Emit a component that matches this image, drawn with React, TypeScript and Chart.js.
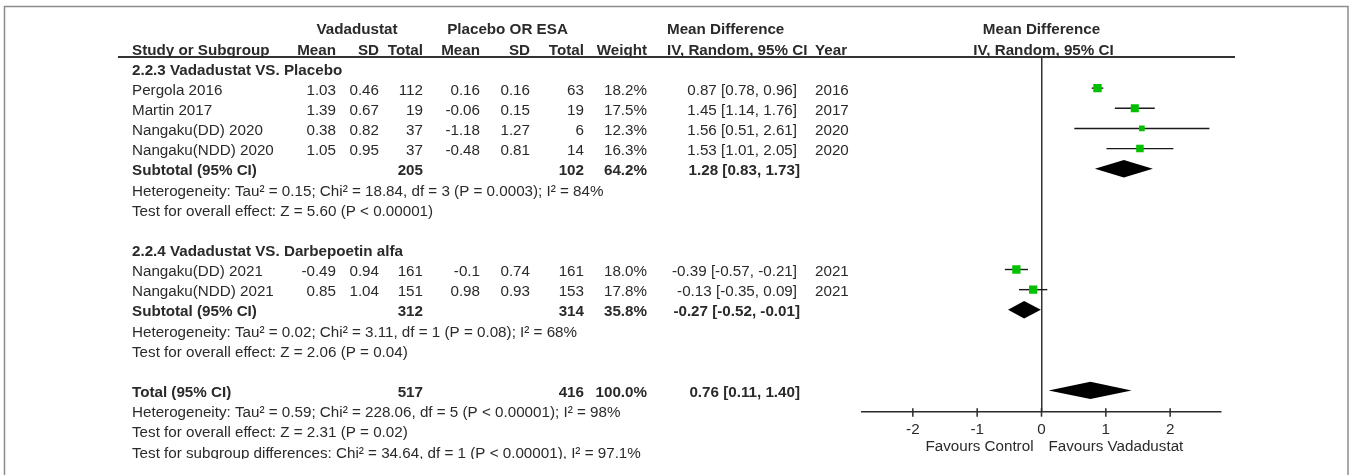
import React, { useEffect, useRef } from "react";
import { Chart, registerables } from "chart.js";

Chart.register(...registerables);

const FONT = '"Liberation Sans", Arial, Helvetica, sans-serif';
const FONT_SIZE = 15.2;

// ---------------- data ----------------
const groupTitles = ["2.2.3 Vadadustat VS. Placebo", "2.2.4 Vadadustat VS. Darbepoetin alfa"];
const studyNames = [
  "Pergola 2016",
  "Martin 2017",
  "Nangaku(DD) 2020",
  "Nangaku(NDD) 2020",
  "Nangaku(DD) 2021",
  "Nangaku(NDD) 2021",
];
const studyGroup = [0, 0, 0, 0, 1, 1];
const vadMean = [1.03, 1.39, 0.38, 1.05, -0.49, 0.85];
const vadSD = [0.46, 0.67, 0.82, 0.95, 0.94, 1.04];
const vadTotal = [112, 19, 37, 37, 161, 151];
const ctlMean = [0.16, -0.06, -1.18, -0.48, -0.1, 0.98];
const ctlSD = [0.16, 0.15, 1.27, 0.81, 0.74, 0.93];
const ctlTotal = [63, 19, 6, 14, 161, 153];
const weights = [18.2, 17.5, 12.3, 16.3, 18.0, 17.8];
const meanDiff = [0.87, 1.45, 1.56, 1.53, -0.39, -0.13];
const ciLow = [0.78, 1.14, 0.51, 1.01, -0.57, -0.35];
const ciHigh = [0.96, 1.76, 2.61, 2.05, -0.21, 0.09];
const years = [2016, 2017, 2020, 2020, 2021, 2021];

const subVadTotal = [205, 312];
const subCtlTotal = [102, 314];
const subWeight = [64.2, 35.8];
const subMD = [1.28, -0.27];
const subLow = [0.83, -0.52];
const subHigh = [1.73, -0.01];
const subHeterogeneity = [
  "Heterogeneity: Tau² = 0.15; Chi² = 18.84, df = 3 (P = 0.0003); I² = 84%",
  "Heterogeneity: Tau² = 0.02; Chi² = 3.11, df = 1 (P = 0.08); I² = 68%",
];
const subEffect = [
  "Test for overall effect: Z = 5.60 (P < 0.00001)",
  "Test for overall effect: Z = 2.06 (P = 0.04)",
];

const totalVad = 517;
const totalCtl = 416;
const totalWeight = 100.0;
const totalMD = 0.76;
const totalLow = 0.11;
const totalHigh = 1.4;
const totalNotes = [
  "Heterogeneity: Tau² = 0.59; Chi² = 228.06, df = 5 (P < 0.00001); I² = 98%",
  "Test for overall effect: Z = 2.31 (P = 0.02)",
  "Test for subgroup differences: Chi² = 34.64, df = 1 (P < 0.00001), I² = 97.1%",
];

const xTicks = [-2, -1, 0, 1, 2];
const xMin = -2.79;
const xMax = 2.79;
const favourLeft = "Favours Control";
const favourRight = "Favours Vadadustat";

// ---------------- layout ----------------
const W = 1352;
const H = 475;
const PLOT_LEFT = 862;
const PLOT_RIGHT = 1221;
const PLOT_TOP = 57;
const AXIS_Y = 411.7;
const ROW0_Y = 68;
const ROW_PITCH = 20.15;
const TEXT_DY = 2.5;
const TEXT_CLIP = 459;
const TXT = "#2a2a2a";

const COL = {
  study: 132,
  vadMean: 336,
  vadSD: 379,
  vadTotal: 423,
  ctlMean: 480,
  ctlSD: 530,
  ctlTotal: 584,
  weight: 647,
  ci: 797,
  ciBold: 800,
  year: 815,
  ciHead: 667,
  vadHead: 357,
  ctlHead: 507.5,
};

type Row =
  | { kind: "group"; g: number }
  | { kind: "study"; i: number }
  | { kind: "subtotal"; g: number }
  | { kind: "note"; text: string }
  | { kind: "blank" }
  | { kind: "total" };

const rows: Row[] = [];
groupTitles.forEach((_, g) => {
  rows.push({ kind: "group", g });
  studyNames.forEach((_, i) => {
    if (studyGroup[i] === g) rows.push({ kind: "study", i });
  });
  rows.push({ kind: "subtotal", g });
  rows.push({ kind: "note", text: subHeterogeneity[g] });
  rows.push({ kind: "note", text: subEffect[g] });
  rows.push({ kind: "blank" });
});
rows.push({ kind: "total" });
totalNotes.forEach((t) => rows.push({ kind: "note", text: t }));

const studyRow: number[] = studyNames.map((_, i) =>
  rows.findIndex((r) => r.kind === "study" && r.i === i)
);
const subRow: number[] = groupTitles.map((_, g) =>
  rows.findIndex((r) => r.kind === "subtotal" && r.g === g)
);
const totalRow = rows.findIndex((r) => r.kind === "total");

const fmtCI = (m: number, lo: number, hi: number) =>
  `${m.toFixed(2)} [${lo.toFixed(2)}, ${hi.toFixed(2)}]`;

function text(
  ctx: CanvasRenderingContext2D,
  s: string,
  x: number,
  y: number,
  align: CanvasTextAlign,
  bold = false
) {
  ctx.font = `${bold ? "bold " : ""}${FONT_SIZE}px ${FONT}`;
  ctx.textAlign = align;
  ctx.textBaseline = "middle";
  ctx.fillStyle = TXT;
  ctx.fillText(s, x, y);
}

const forestPlugin = {
  id: "forest",
  beforeDraw(chart: any) {
    const ctx: CanvasRenderingContext2D = chart.ctx;
    ctx.save();
    ctx.fillStyle = "#ffffff";
    ctx.fillRect(0, 0, W, H);
    ctx.strokeStyle = "#8c8c8c";
    ctx.lineWidth = 1.5;
    ctx.strokeRect(4.5, 6.5, 1343.5, 520);
    ctx.restore();
  },
  beforeDatasetsDraw(chart: any) {
    const ctx: CanvasRenderingContext2D = chart.ctx;
    const xs = chart.scales.x;
    const ys = chart.scales.y;
    ctx.save();
    ctx.strokeStyle = "#1a1a1a";
    ctx.lineWidth = 1.4;
    studyNames.forEach((_, i) => {
      const y = ys.getPixelForValue(studyRow[i]);
      ctx.beginPath();
      ctx.moveTo(xs.getPixelForValue(ciLow[i]), y);
      ctx.lineTo(xs.getPixelForValue(ciHigh[i]), y);
      ctx.stroke();
    });
    ctx.restore();
  },
  afterDatasetsDraw(chart: any) {
    const ctx: CanvasRenderingContext2D = chart.ctx;
    const xs = chart.scales.x;
    const ys = chart.scales.y;
    const diamond = (m: number, lo: number, hi: number, r: number) => {
      const y = ys.getPixelForValue(r);
      const h = 8.7;
      ctx.beginPath();
      ctx.moveTo(xs.getPixelForValue(lo), y);
      ctx.lineTo(xs.getPixelForValue(m), y - h);
      ctx.lineTo(xs.getPixelForValue(hi), y);
      ctx.lineTo(xs.getPixelForValue(m), y + h);
      ctx.closePath();
      ctx.fill();
    };
    ctx.save();
    ctx.fillStyle = "#000000";
    groupTitles.forEach((_, g) => diamond(subMD[g], subLow[g], subHigh[g], subRow[g]));
    diamond(totalMD, totalLow, totalHigh, totalRow);
    ctx.restore();
  },
  afterDraw(chart: any) {
    const ctx: CanvasRenderingContext2D = chart.ctx;
    const xs = chart.scales.x;
    const ys = chart.scales.y;
    const area = chart.chartArea;
    ctx.save();
    // tick marks crossing the axis
    ctx.strokeStyle = "#2a2a2a";
    ctx.lineWidth = 1.5;
    xTicks.forEach((v) => {
      const px = xs.getPixelForValue(v);
      ctx.beginPath();
      ctx.moveTo(px, area.bottom - 3.5);
      ctx.lineTo(px, area.bottom + 5);
      ctx.stroke();
    });
    // header rule
    ctx.strokeStyle = "#333333";
    ctx.lineWidth = 2;
    ctx.beginPath();
    ctx.moveTo(118, PLOT_TOP);
    ctx.lineTo(1235, PLOT_TOP);
    ctx.stroke();

    const zero = xs.getPixelForValue(0);
    text(ctx, favourLeft, zero - 8, 446.7, "right");
    text(ctx, favourRight, zero + 7, 446.7, "left");

    // table text
    ctx.beginPath();
    ctx.rect(0, 0, W, TEXT_CLIP);
    ctx.clip();
    const ty = (r: number) => ys.getPixelForValue(r) + TEXT_DY;

    const h1 = ty(-2);
    text(ctx, "Vadadustat", COL.vadHead, h1, "center", true);
    text(ctx, "Placebo OR ESA", COL.ctlHead, h1, "center", true);
    text(ctx, "Mean Difference", COL.ciHead, h1, "left", true);
    text(ctx, "Mean Difference", zero, h1, "center", true);
    const h2 = ty(-1);
    text(ctx, "Study or Subgroup", COL.study, h2, "left", true);
    text(ctx, "Mean", COL.vadMean, h2, "right", true);
    text(ctx, "SD", COL.vadSD, h2, "right", true);
    text(ctx, "Total", COL.vadTotal, h2, "right", true);
    text(ctx, "Mean", COL.ctlMean, h2, "right", true);
    text(ctx, "SD", COL.ctlSD, h2, "right", true);
    text(ctx, "Total", COL.ctlTotal, h2, "right", true);
    text(ctx, "Weight", COL.weight, h2, "right", true);
    text(ctx, "IV, Random, 95% CI", COL.ciHead, h2, "left", true);
    text(ctx, "Year", COL.year, h2, "left", true);
    text(ctx, "IV, Random, 95% CI", zero + 2, h2, "center", true);

    rows.forEach((r, k) => {
      const y = ty(k);
      if (r.kind === "group") {
        text(ctx, groupTitles[r.g], COL.study, y, "left", true);
      } else if (r.kind === "study") {
        const i = r.i;
        text(ctx, studyNames[i], COL.study, y, "left");
        text(ctx, String(vadMean[i]), COL.vadMean, y, "right");
        text(ctx, String(vadSD[i]), COL.vadSD, y, "right");
        text(ctx, String(vadTotal[i]), COL.vadTotal, y, "right");
        text(ctx, String(ctlMean[i]), COL.ctlMean, y, "right");
        text(ctx, String(ctlSD[i]), COL.ctlSD, y, "right");
        text(ctx, String(ctlTotal[i]), COL.ctlTotal, y, "right");
        text(ctx, `${weights[i].toFixed(1)}%`, COL.weight, y, "right");
        text(ctx, fmtCI(meanDiff[i], ciLow[i], ciHigh[i]), COL.ci, y, "right");
        text(ctx, String(years[i]), COL.year, y, "left");
      } else if (r.kind === "subtotal") {
        const g = r.g;
        text(ctx, "Subtotal (95% CI)", COL.study, y, "left", true);
        text(ctx, String(subVadTotal[g]), COL.vadTotal, y, "right", true);
        text(ctx, String(subCtlTotal[g]), COL.ctlTotal, y, "right", true);
        text(ctx, `${subWeight[g].toFixed(1)}%`, COL.weight, y, "right", true);
        text(ctx, fmtCI(subMD[g], subLow[g], subHigh[g]), COL.ciBold, y, "right", true);
      } else if (r.kind === "total") {
        text(ctx, "Total (95% CI)", COL.study, y, "left", true);
        text(ctx, String(totalVad), COL.vadTotal, y, "right", true);
        text(ctx, String(totalCtl), COL.ctlTotal, y, "right", true);
        text(ctx, `${totalWeight.toFixed(1)}%`, COL.weight, y, "right", true);
        text(ctx, fmtCI(totalMD, totalLow, totalHigh), COL.ciBold, y, "right", true);
      } else if (r.kind === "note") {
        text(ctx, r.text, COL.study, y, "left");
      }
    });
    ctx.restore();
  },
};

export default function App() {
  const ref = useRef<HTMLCanvasElement | null>(null);

  useEffect(() => {
    if (!ref.current) return;
    const yMin = (PLOT_TOP - ROW0_Y) / ROW_PITCH;
    const yMax = (AXIS_Y - ROW0_Y) / ROW_PITCH;
    const chart = new Chart(ref.current, {
      type: "scatter",
      data: {
        datasets: [
          {
            data: studyNames.map((_, i) => ({ x: meanDiff[i], y: studyRow[i] })),
            pointStyle: "rect",
            pointRadius: weights.map((w) => (w * 0.46) / Math.SQRT2),
            backgroundColor: "#00c000",
            borderWidth: 0,
          },
        ],
      },
      options: {
        responsive: false,
        animation: false,
        events: [],
        layout: { padding: { left: PLOT_LEFT, right: W - PLOT_RIGHT, top: PLOT_TOP, bottom: 0 } },
        plugins: { legend: { display: false }, tooltip: { enabled: false } },
        scales: {
          x: {
            type: "linear",
            position: "bottom",
            min: xMin,
            max: xMax,
            afterBuildTicks: (s: any) => {
              s.ticks = xTicks.map((v) => ({ value: v }));
            },
            afterFit: (s: any) => {
              s.height = H - AXIS_Y;
            },
            ticks: {
              font: { family: FONT, size: FONT_SIZE },
              color: "#2a2a2a",
              padding: 8.5,
              maxRotation: 0,
              autoSkip: false,
              callback: (v: any) => String(v),
            },
            grid: {
              drawTicks: false,
              lineWidth: 1.5,
              color: (c: any) => (c.tick && c.tick.value === 0 ? "#333333" : "rgba(0,0,0,0)"),
            },
            border: { display: true, color: "#2a2a2a", width: 1.5 },
          },
          y: {
            type: "linear",
            display: false,
            reverse: true,
            min: yMin,
            max: yMax,
          },
        },
      },
      plugins: [forestPlugin],
    } as any);
    return () => chart.destroy();
  }, []);

  return (
    <div style={{ position: "fixed", left: 0, top: 0, width: W, height: H, background: "#fff" }}>
      <canvas ref={ref} width={W} height={H} style={{ display: "block" }} />
    </div>
  );
}
